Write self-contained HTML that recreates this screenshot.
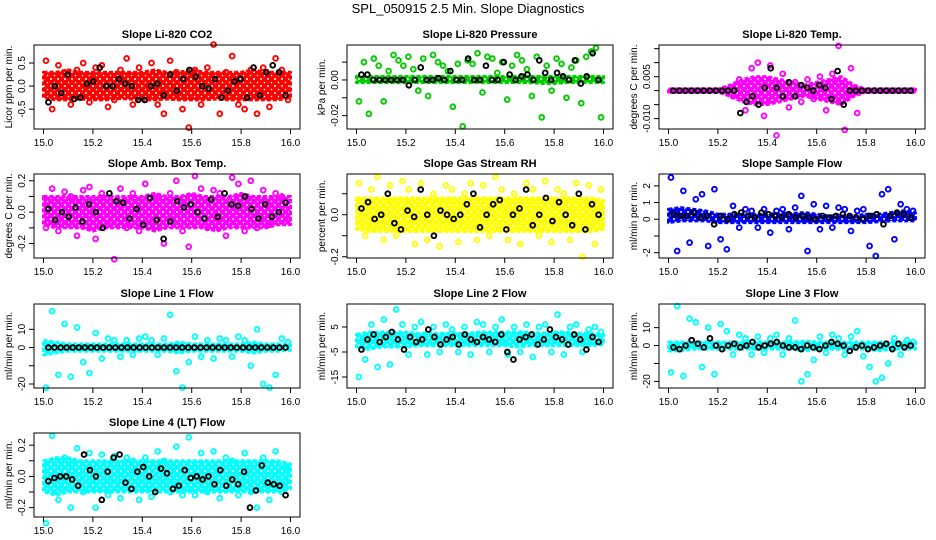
<!DOCTYPE html>
<html><head><meta charset="utf-8"><style>
html,body{margin:0;padding:0;background:#fff}
svg{display:block;font-family:"Liberation Sans",sans-serif}
</style></head><body>
<svg id="chart" width="936" height="540" viewBox="0 0 936 540">
<defs id="defs"></defs>
<text x="468" y="13" text-anchor="middle" font-size="13">SPL_050915  2.5 Min. Slope Diagnostics</text>
</svg>
<script>
const titles=["Slope Li-820 CO2","Slope Li-820 Pressure","Slope Li-820 Temp.","Slope Amb. Box Temp.","Slope Gas Stream RH","Slope Sample Flow","Slope Line 1 Flow","Slope Line 2 Flow","Slope Line 3 Flow","Slope Line 4 (LT) Flow"];
const yTitles=["Licor ppm per min.","kPa per min.","degrees C per min.","degrees C per min.","percent per min.","ml/min per min.","ml/min per min.","ml/min per min.","ml/min per min.","ml/min per min."];
const colors=["#ff0000","#00cc00","#ff00ff","#ff00ff","#ffff00","#0000ff","#00ffff","#00ffff","#00ffff","#00ffff"];
const yLims=[[-0.93,0.89],[-0.0275,0.0196],[-0.0137,0.0163],[-0.292,0.243],[-0.206,0.194],[-2.32,2.71],[-22.2,23.9],[-19.4,14.2],[-23.7,23.2],[-0.26,0.278]];
const yTicks=[[-0.5,0,0.5],[-0.02,-0.01,0,0.01],[-0.01,-0.005,0,0.005,0.01,0.015],[-0.2,-0.1,0,0.1,0.2],[-0.2,-0.1,0,0.1],[-2,-1,0,1,2],[-20,-10,0,10],[-15,-5,5],[-20,-10,0,10],[-0.2,-0.1,0,0.1,0.2]];
const yTickLabels=[["-0.5","0.0","0.5"],["-0.02","","0.00",""],["-0.010","","","0.005","",""],["-0.2","","0.0","","0.2"],["-0.2","","0.0",""],["-2","","0","1","2"],["-20","","0","10"],["-15","-5","5"],["-20","","0","10"],["-0.2","","0.0","","0.2"]];
const xTicks=[15.0,15.2,15.4,15.6,15.8,16.0];
const xTickLabels=["15.0","15.2","15.4","15.6","15.8","16.0"];
const bandLo=[
[-0.25,-0.3,-0.3,-0.28,-0.3,-0.3,-0.27,-0.28,-0.3,-0.3,-0.28,-0.3,-0.3,-0.3,-0.28,-0.3,-0.3,-0.3,-0.3,-0.3,-0.25],
[-0.0015,-0.0015,-0.0015,-0.0015,-0.0015,-0.0015,-0.0015,-0.0015,-0.0015,-0.0015,-0.0015,-0.0015,-0.0015,-0.0015,-0.0015,-0.002,-0.002,-0.0015,-0.0015,-0.0015,-0.0015],
[-0.0005,-0.0005,-0.0005,-0.0005,-0.0005,-0.002,-0.004,-0.005,-0.005,-0.004,-0.003,-0.002,-0.003,-0.004,-0.005,-0.002,-0.0005,-0.0005,-0.0005,-0.0005,-0.0005],
[-0.08,-0.1,-0.1,-0.1,-0.12,-0.1,-0.1,-0.1,-0.1,-0.12,-0.1,-0.1,-0.1,-0.1,-0.12,-0.1,-0.1,-0.1,-0.1,-0.08,-0.08],
[-0.07,-0.08,-0.08,-0.08,-0.08,-0.08,-0.08,-0.08,-0.08,-0.08,-0.08,-0.08,-0.08,-0.08,-0.08,-0.08,-0.08,-0.08,-0.08,-0.08,-0.07],
[-0.2,-0.1,-0.1,-0.1,-0.2,-0.2,-0.2,-0.2,-0.2,-0.2,-0.2,-0.2,-0.2,-0.2,-0.2,-0.2,-0.2,-0.15,-0.1,-0.1,-0.1],
[-4,-3,-2,-2,-2,-2,-2,-2,-2,-2,-2,-3,-2,-2,-2,-2,-2,-3,-2,-2,-1.5],
[-3,-4,-3,-3,-3,-2.5,-2.5,-2.5,-2.5,-2.5,-2.5,-2.5,-2.5,-3,-2.5,-2.5,-2.5,-2.5,-2.5,-2.5,-2],
[-3,-3,-2,-2,-2,-2,-2,-2,-2,-2,-2,-3,-2,-2,-2,-2,-2,-3,-2,-2,-2],
[-0.1,-0.12,-0.1,-0.1,-0.1,-0.1,-0.1,-0.1,-0.1,-0.1,-0.1,-0.1,-0.1,-0.1,-0.1,-0.1,-0.1,-0.1,-0.1,-0.1,-0.08]];
const bandHi=[
[0.3,0.3,0.35,0.3,0.3,0.3,0.3,0.3,0.3,0.35,0.3,0.3,0.35,0.3,0.3,0.3,0.3,0.35,0.3,0.3,0.3],
[0.002,0.002,0.002,0.002,0.002,0.002,0.002,0.002,0.002,0.002,0.002,0.002,0.002,0.002,0.002,0.002,0.002,0.002,0.002,0.002,0.002],
[0.0005,0.0005,0.0005,0.0005,0.0005,0.002,0.004,0.005,0.005,0.004,0.003,0.002,0.003,0.004,0.005,0.002,0.0005,0.0005,0.0005,0.0005,0.0005],
[0.1,0.1,0.1,0.1,0.1,0.1,0.1,0.1,0.1,0.12,0.1,0.1,0.12,0.1,0.1,0.1,0.12,0.1,0.1,0.1,0.1],
[0.08,0.08,0.08,0.08,0.08,0.08,0.08,0.08,0.08,0.08,0.08,0.08,0.08,0.08,0.08,0.08,0.08,0.08,0.08,0.08,0.07],
[0.6,0.7,0.6,0.5,0.3,0.3,0.3,0.3,0.3,0.35,0.35,0.4,0.3,0.2,0.2,0.2,0.3,0.3,0.4,0.5,0.4],
[4,3,2,2,2,2,2,2,2,2,2,3,2,2,2,2,2,3,2,2,1.5],
[2,3,3,3,3,2.5,2.5,2.5,2.5,2.5,3,3,3,3,3,2.5,3,3,2.5,2.5,2],
[2,2,2,2,2,2,2,2,2,2,2,2.5,2,2,2,2,2,2,2,2,2],
[0.1,0.12,0.12,0.1,0.1,0.1,0.1,0.1,0.1,0.1,0.1,0.1,0.1,0.1,0.1,0.1,0.1,0.1,0.1,0.1,0.08]];
const colorPts=[
[0.55,-0.5,0.45,0.3,-0.4,0.35,0.5,-0.35,0.4,0.45,-0.45,-0.3,0.35,0.6,-0.4,0.4,-0.3,0.5,-0.4,-0.6,0.55,0.3,-0.5,-0.9,0.35,-0.4,0.4,0.9,-0.6,0.3,0.65,-0.4,-0.5,0.35,-0.6,0.4,-0.45,0.6,0.35,-0.3],
[-0.012,0.01,-0.019,0.012,0.008,-0.012,0.005,0.014,0.011,0.008,0.013,0.006,-0.006,0.012,-0.009,0.014,0.01,0.008,0.005,-0.015,0.009,-0.026,0.011,0.009,0.015,-0.007,0.013,0.012,0.004,0.01,-0.011,0.008,0.014,0.011,0.006,-0.009,0.013,-0.021,0.008,-0.006,0.012,0.009,-0.01,0.007,0.011,-0.013,0.013,0.016,0.018,-0.021],
[0,0,0,0,0,0,0,0,0,0,-0.002,0.004,-0.007,0.008,0.01,-0.009,0.009,-0.016,0.006,-0.006,0.003,-0.004,0.004,-0.003,0.005,-0.007,0.006,0.016,-0.014,0.008,-0.008,0,0,0,0,0,0,0,0,0],
[-0.1,0.15,-0.12,0.13,0.1,-0.15,0.14,0.16,-0.17,0.12,-0.08,-0.3,0.15,-0.1,0.12,-0.12,0.18,-0.06,0.1,-0.2,0.12,0.2,-0.12,-0.22,0.23,0.15,-0.1,0.14,0.12,-0.15,0.22,0.18,-0.12,0.2,-0.1,0.14,-0.08,0.12,0.1,-0.05],
[0.15,-0.1,0.12,0.18,-0.12,0.14,-0.1,0.16,0.12,-0.14,0.15,-0.12,0.1,-0.15,0.14,0.12,-0.13,0.1,0.15,-0.12,0.14,-0.1,0.18,0.12,-0.12,0.1,-0.14,0.15,0.12,-0.1,0.16,-0.13,0.12,0.1,-0.12,0.15,-0.2,0.14,-0.14,0.12],
[2.5,-1.9,1.7,-1.4,1.2,1.5,-1.6,1.8,-1.2,-1.8,0.8,-0.5,0.6,0.5,-0.5,0.6,-0.8,0.5,0.6,-0.6,0.7,1.4,-1.9,0.9,-0.6,0.8,-0.5,0.7,0.6,-0.7,0.5,0.6,-1.6,-2.2,1.5,1.8,-1.2,0.9,0.6,0.5],
[-22,20,-15,13,-16,11,-8,-14,8,-6,5,4,-5,4,-4,5,6,4,-4,5,18,-13,-22,-8,6,-5,4,-6,5,4,-5,6,4,-10,10,-20,-22,-15,5,3],
[-15,-8,6,-11,8,-10,12,6,-6,5,7,-6,5,-5,6,4,-5,5,-6,7,6,-5,5,8,-6,5,-5,6,-7,5,6,-5,10,-6,5,6,-5,4,5,3],
[-15,22,-17,15,13,-12,10,-16,12,8,-5,6,4,-5,5,-4,4,6,-5,4,14,-20,-16,-8,5,-4,6,4,-5,5,8,-6,-12,-20,-18,-10,4,-5,3,2],
[-0.3,0.26,-0.15,0.12,-0.2,0.18,-0.1,0.15,-0.2,0.14,-0.12,0.13,-0.14,0.12,0.1,-0.15,0.12,-0.13,0.16,0.1,-0.1,0.19,-0.12,0.25,-0.12,0.15,-0.1,0.16,-0.14,0.12,0.1,-0.12,0.15,-0.1,-0.2,0.12,-0.15,0.16,-0.1,0.05]];
const blackPts=[
[-0.35,0.0,-0.15,0.25,-0.28,-0.25,0.05,0.1,0.4,0.0,0.0,0.15,0.05,0.0,-0.3,-0.3,0.0,0.05,-0.2,0.25,-0.1,0.15,0.35,0.2,0.0,-0.05,0.15,-0.25,-0.1,0.1,0.15,-0.25,0.4,-0.2,0.3,0.45,0.3,-0.2],
[0.003,0.003,0,0,0,0,0,0,-0.003,0,0.007,0,0,0.001,0,0.005,0,0,0.012,0,0,0.008,0,0,0.01,0.003,0,0.002,0.003,0,0.011,0.004,0,0.004,0.002,0,0.011,-0.002,0.002,0.015,0],
[0,0,0,0,0,0,0,0,0,0,0,-0.008,-0.004,-0.002,-0.005,0.001,0.008,0.001,-0.002,0.003,-0.002,0.002,0.001,0,0.002,0.001,-0.003,0.007,-0.005,0,0,0,0,0,0,0,0,0,0,0],
[0.02,-0.05,0.0,-0.03,0.03,-0.06,0.05,0.0,-0.1,0.12,0.07,0.06,-0.04,0.02,-0.08,0.09,-0.05,-0.17,-0.06,0.07,0.03,0.05,0.0,-0.04,0.08,-0.03,0.12,0.05,0.04,0.1,0.02,-0.04,0.05,-0.03,0.0,0.06],
[0.03,0.06,-0.02,0.0,0.1,-0.04,-0.07,0.02,-0.01,0.12,0.0,-0.1,0.02,0.0,-0.02,0.0,0.05,0.1,-0.06,0.0,0.05,0.07,-0.07,0.0,0.03,0.12,-0.05,0.0,0.08,-0.03,0.06,0.0,-0.05,0.1,-0.07,0.05,0.0],
[0.3,0.2,0.2,0.4,0.1,0.2,-0.3,0.2,0.0,0.3,0.4,0.2,0.1,0.4,0.3,0.2,0.1,0.3,0.1,0.2,0.1,0.0,0.2,0.1,0.2,0.3,0.2,0.1,0.0,0.2,0.3,-0.3,0.2,0.4,0.3,0.1],
[0,0,0,0,0,0,0,0,0,0,0,0,0,0,0,0,0,0,0,0,0,0,0,0,0,0,0,0,0,0,0,0,0,0,0,0,0,0,0,0],
[-4,0,2,-1,1,3,0,-4,1,-1,0,4,1,-2,0,1,-2,2,0,-1,1,0,-1,2,-5,-8,0,1,2,-2,0,4,1,0,-2,2,0,-4,1,-1],
[-1,-2,0,3,1,-1,4,0,-2,0,1,-1,0,2,-1,0,1,2,0,-1,-1,-2,0,-1,-2,0,2,1,0,-3,-1,0,-2,-1,0,1,-2,1,-1,0],
[-0.03,-0.01,0.0,0.0,-0.02,-0.06,0.14,0.04,0.0,-0.15,0.03,0.12,0.14,-0.04,-0.08,0.03,0.06,0.0,-0.1,0.05,0.02,-0.08,-0.06,0.04,-0.01,0.0,-0.02,0.0,-0.05,0.04,-0.06,-0.02,-0.05,0.03,-0.2,-0.09,0.07,-0.04,-0.05,-0.06,-0.12]];

const NS="http://www.w3.org/2000/svg";
const svg=document.getElementById('chart');
const defs=document.getElementById('defs');
const colLeft=[34,347,659], rowTop=[45,174,304,433], boxW=266, boxH=84;
function mk(tag,attrs,parent){const e=document.createElementNS(NS,tag);for(const k in attrs)e.setAttribute(k,attrs[k]);parent.appendChild(e);return e;}
for(let p=0;p<titles.length;p++){
  const L=colLeft[p%3], T=rowTop[Math.floor(p/3)];
  const pat=mk('pattern',{id:'pat'+p,patternUnits:'userSpaceOnUse',width:7,height:7},defs);
  mk('rect',{x:0,y:0,width:7,height:7,fill:colors[p]},pat);
  mk('circle',{cx:2,cy:2,r:1,fill:'#fff'},pat);
  mk('circle',{cx:5.5,cy:5.5,r:0.8,fill:'#fff'},pat);
  const g=mk('g',{},svg);
  
  
  const xs=v=>L+9.5+(v-15)*247;
  const ys=v=>T+boxH-(v-yLims[p][0])/(yLims[p][1]-yLims[p][0])*boxH;
  const t=mk('text',{x:L+boxW/2,y:T-7,'text-anchor':'middle','font-size':11,'font-weight':'bold'},g);
  t.textContent=titles[p];
  
  
  let pts=[];
  bandHi[p].forEach((v,i)=>pts.push(xs(15+i*0.05).toFixed(1)+','+ys(v).toFixed(1)));
  for(let i=bandLo[p].length-1;i>=0;i--)pts.push(xs(15+i*0.05).toFixed(1)+','+ys(bandLo[p][i]).toFixed(1));
  const band=mk('polygon',{points:pts.join(' '),fill:'url(#pat'+p+')',stroke:colors[p],'stroke-width':3,'stroke-linejoin':'round','stroke-dasharray':'4 2'},g);
  
  
  colorPts[p].forEach((v,i,a)=>{
    const c=mk('circle',{cx:xs(15+0.01+i*0.98/(a.length-1)),cy:ys(v),r:2.4,fill:'none',stroke:colors[p],'stroke-width':1.9},g);
    
    
  });
  blackPts[p].forEach((v,i,a)=>{
    const c=mk('circle',{cx:xs(15+0.02+i*0.96/(a.length-1)),cy:ys(v),r:2.4,fill:'none',stroke:'#000','stroke-width':1.9},g);
    
    
  });
  const box=mk('rect',{x:L,y:T,width:boxW,height:boxH,fill:'none',stroke:'#000','stroke-width':1},g);
  
  
  xTicks.forEach((v,i)=>{
    mk('line',{x1:xs(v),x2:xs(v),y1:T+boxH,y2:T+boxH+5,stroke:'#000'},g);
    const tl=mk('text',{x:xs(v),y:T+boxH+17,'text-anchor':'middle','font-size':10},g);
    tl.textContent=xTickLabels[i];
    
    
  });
  yTicks[p].forEach((v,i)=>{
    mk('line',{x1:L,x2:L-5,y1:ys(v),y2:ys(v),stroke:'#000'},g);
    if(yTickLabels[p][i]){
      const yl=mk('text',{x:L-9,y:ys(v),'text-anchor':'middle','font-size':10,transform:'rotate(-90 '+(L-9)+' '+ys(v)+')'},g);
      yl.textContent=yTickLabels[p][i];
      
      
    }
  });
  const yt=mk('text',{x:L-22,y:T+boxH/2,'text-anchor':'middle','font-size':10,transform:'rotate(-90 '+(L-22)+' '+(T+boxH/2)+')'},g);
  yt.textContent=yTitles[p];
  
  
}
</script>
</body></html>
